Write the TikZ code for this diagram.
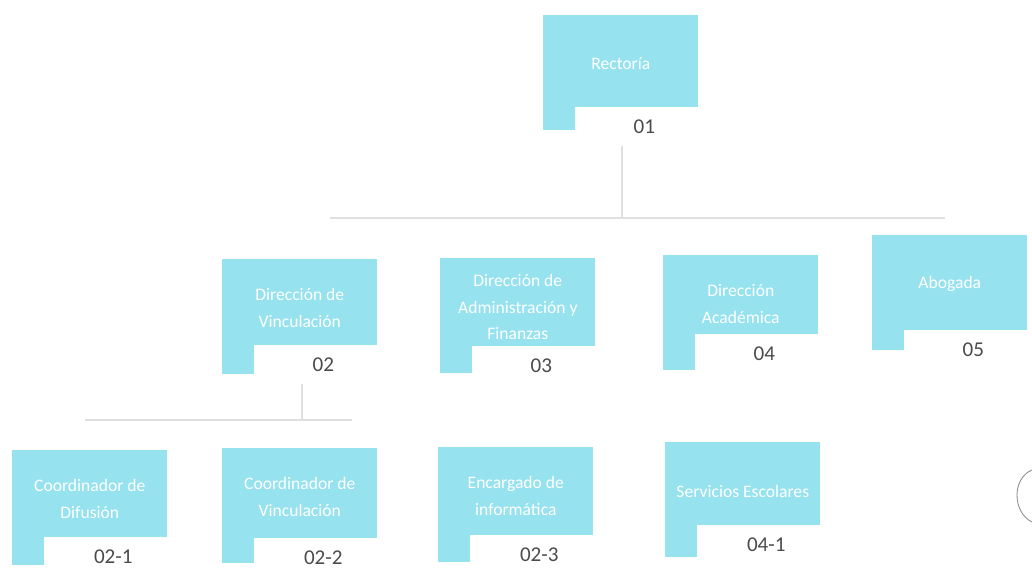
\documentclass[tikz,border=0pt]{standalone}
\usepackage{fontspec}
\setmainfont{Carlito}
\usetikzlibrary{positioning}
\definecolor{unitcyan}{RGB}{150,226,238}
\definecolor{codegray}{RGB}{75,75,75}
\tikzset{
  unitbox/.style={fill=unitcyan, draw=none, inner sep=0pt,
    minimum width=3.875cm, minimum height=2.875cm},
  codebox/.style={fill=white, draw=none, inner sep=0pt, text=codegray,
    minimum width=3.45cm, minimum height=0.95cm,
    font=\fontsize{15}{18}\selectfont},
  unittext/.style={text=white, align=center, inner sep=0pt,
    font=\fontsize{12.5}{19}\selectfont},
  link/.style={draw=black!12, line width=1pt}
}
% one unit: name, x, y (top left, px), drop of the code box, title, code
\newcommand{\orgunit}[6]{%
  \node[unitbox, anchor=north west] (#1) at (#2,#3) {};
  \node[codebox, anchor=north west] (#1-c) at ([shift={(32,#4)}]#1.north west) {#6};
  \node[unittext] (#1-t) at ([shift={(0,49)}]#1.north) {#5};
}
\begin{document}
\begin{tikzpicture}[x=0.025cm, y=-0.025cm]
  \useasboundingbox (0,0) rectangle (1032,568);
  \clip (0,0) rectangle (1032,568);
  % top
  \orgunit{rect}{543}{15}{92}{Rectoría}{01}
  % second row
  \orgunit{dv}{222}{259}{86}{Dirección de\\Vinculación}{02}
  \orgunit{daf}{440}{258}{88}{Dirección de\\Administración y\\Finanzas}{03}
  \orgunit{da}{663}{255}{79}{Dirección\\Académica}{04}
  \orgunit{ab}{872}{235}{95}{Abogada}{05}
  % third row
  \orgunit{cd}{12}{450}{87}{Coordinador de\\Difusión}{02-1}
  \orgunit{cv}{222}{448}{90}{Coordinador de\\Vinculación}{02-2}
  \orgunit{ei}{438}{447}{88}{Encargado de\\informática}{02-3}
  \orgunit{se}{665}{442}{83}{Servicios Escolares}{04-1}
  % connectors
  \coordinate (bus1) at (622,218);
  \coordinate (bus1w) at (330,218);
  \coordinate (bus1e) at (945,218);
  \draw[link] (rect-c.south -| bus1) -- (bus1);
  \draw[link] (bus1w) -- (bus1e);
  \coordinate (bus2) at (302,420);
  \coordinate (bus2w) at (85,420);
  \coordinate (bus2e) at (352,420);
  \draw[link] (dv-c.south -| bus2) -- (bus2);
  \draw[link] (bus2w) -- (bus2e);
  % stamp edge
  \draw[black!45, line width=0.6pt] (1032,470) .. controls (1012,478) and (1012,512) .. (1032,522);
\end{tikzpicture}
\end{document}
